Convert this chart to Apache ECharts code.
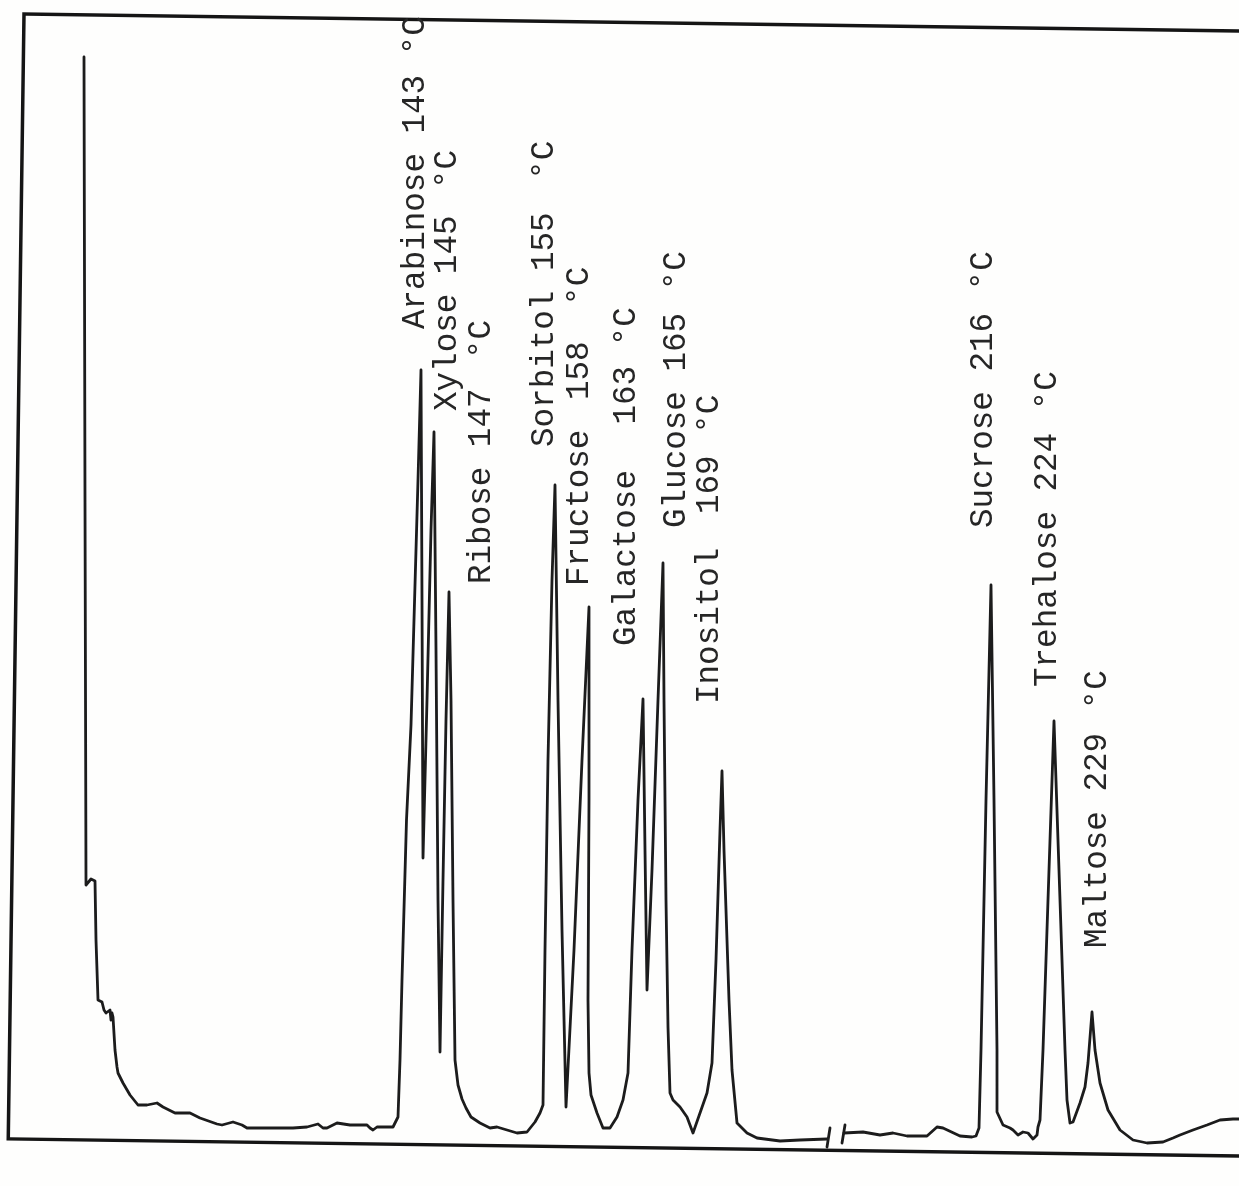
<!DOCTYPE html>
<html>
<head>
<meta charset="utf-8">
<script src="https://cdn.jsdelivr.net/npm/echarts@6/dist/echarts.min.js"></script>
<style>
  html, body { margin: 0; padding: 0; background: #fefefd; }
  #chart { width: 1239px; height: 1186px; }
</style>
</head>
<body>
<div id="chart"></div>
<script>
// Gas chromatogram of sugar TMS derivatives (retention axis in chart units, detector response upward)

// First part of the run: solvent front through inositol
const timeA = [84,85,86,88,91,93,95,96,98,100,102,104,106,108,110,111,112,113,115,117,118,123,130,138,147,157,163,175,190,200,217,222,233,242,247,273,293,307,318,323,327,337,350,367,370,373,377,393,395,398,400,402,406.5,411,414,418,421,422,423,427,431,434,436,438,440,443,446,449,451,453,455,458,462,466,471,480,490,497,507,517,527,535,540,543,545,548,552,555,558,562,566,574,582,589,589,588,589,591,597,603,610,617,623,628,632,638,643,645,647,652,658,663,664,666,668,670,673,680,687,693,700,707,712,716,720,722,724,729,732,737,747,757,780,800,827];
const signalA = [1129,686,301,303,307,309,305,246,186,186,184,176,173,171,176,166,173,169,136,119,113,103,91,81,81,83,79,73,73,68,62,61,64,61,58,58,58,59,62,58,58,63,61,61,58,56,59,59,61,69,126,206,366,461,566,706,816,586,328,486,656,754,536,286,134,306,466,594,486,286,126,101,87,78,69,63,58,59,56,53,54,64,73,81,236,426,606,701,486,256,79,236,426,579,386,186,113,91,73,58,58,69,86,113,236,386,487,336,196,316,486,623,486,286,159,93,86,79,69,53,73,93,123,226,356,415,336,186,116,63,53,48,45,46,47];

// Second part after the chart-paper break: sucrose, trehalose, maltose
const timeB = [844,863,880,893,907,927,937,943,960,972,976,979,981,986,991,994,997,997,1003,1010,1013,1018,1023,1028,1033,1037,1038,1040,1043,1048,1054,1060,1065,1067,1070,1073,1080,1085,1088,1092,1095,1100,1108,1120,1133,1147,1163,1173,1180,1193,1207,1220,1233,1239];
const signalB = [53,54,51,53,50,50,59,58,50,49,50,58,136,386,601,386,136,74,61,58,56,51,54,53,47,51,59,66,136,286,465,286,136,86,63,64,83,99,123,174,136,103,76,56,46,43,44,48,51,56,61,66,67,67];

// Break marks on the baseline (each pair is one short stroke)
const breakTime = [830,827,845,842];
const breakSignal = [58,39,61,43];

// Peak annotations
const peakNames = ['Arabinose','Xylose','Ribose','Sorbitol','Fructose','Galactose','Glucose','Inositol','Sucrose','Trehalose','Maltose'];
const elutionTemps = [143,145,147,155,158,163,165,169,216,224,229];

const pairs = (t, s) => t.map((x, i) => [x, s[i]]);
const breakData = [];
for (let i = 0; i < breakTime.length; i += 2) {
  if (i) breakData.push('-');
  breakData.push([breakTime[i], breakSignal[i]], [breakTime[i + 1], breakSignal[i + 1]]);
}

// typed label placement: [centre x, start y (text reads upward), extra gap before number, extra gap before unit]
const labelLayout = [
  [415, 329, 0, 0], [447, 411, 0, 7], [481, 584, 0, 10], [544, 447, 0, 13], [579, 586, 10, 16],
  [626, 646, 26, 0], [676, 528, 0, 3], [709, 704, 14, 2], [983, 528, 0, 3], [1047, 687, 0, 3], [1097, 948, 0, 4]
];

const FONT = '32.6px "Liberation Mono", monospace';
const textEls = peakNames.map((name, i) => {
  const [x, y, g1, g2] = labelLayout[i];
  return {
    type: 'text',
    x: x, y: y,
    rotation: Math.PI / 2,
    silent: true,
    style: {
      text: '{n|' + name + '} {t|' + elutionTemps[i] + '} {u|°C}',
      font: FONT,
      fill: '#262626',
      align: 'left',
      verticalAlign: 'middle',
      rich: {
        n: { font: FONT, fill: '#262626' },
        t: { font: FONT, fill: '#262626', padding: [0, 0, 0, g1] },
        u: { font: FONT, fill: '#262626', padding: [0, 0, 0, g2] }
      }
    }
  };
});

const chart = echarts.init(document.getElementById('chart'), null, { renderer: 'canvas' });
chart.setOption({
  backgroundColor: '#fefefd',
  animation: false,
  grid: { left: 0, right: 0, top: 0, bottom: 0 },
  xAxis: { type: 'value', min: 0, max: 1239, show: false },
  yAxis: { type: 'value', min: 0, max: 1186, show: false },
  series: [
    {
      name: 'trace A', type: 'line', data: pairs(timeA, signalA),
      symbol: 'none', smooth: false,
      lineStyle: { color: '#1c1c1c', width: 2.8, join: 'round', cap: 'round' }
    },
    {
      name: 'trace B', type: 'line', data: pairs(timeB, signalB),
      symbol: 'none', smooth: false,
      lineStyle: { color: '#1c1c1c', width: 2.8, join: 'round', cap: 'round' }
    },
    {
      name: 'break', type: 'line', data: breakData, connectNulls: false,
      symbol: 'none',
      lineStyle: { color: '#1c1c1c', width: 2.8, cap: 'round' }
    }
  ],
  graphic: [
    {
      type: 'rect',
      x: 24, y: 14,
      rotation: -0.0140,
      silent: true,
      shape: { x: 0, y: 0, width: 1250, height: 1125 },
      style: { fill: 'none', stroke: '#151515', lineWidth: 3.5 }
    }
  ].concat(textEls)
});
</script>
</body>
</html>
